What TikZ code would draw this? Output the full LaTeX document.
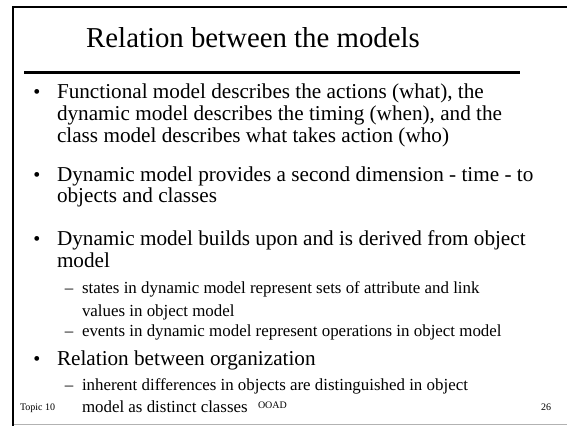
\documentclass[tikz,border=0pt]{standalone}
\usepackage{fontspec}
\setmainfont{Liberation Serif}
\begin{document}
\begin{tikzpicture}[x=1pt,y=-1pt,
  every node/.style={inner sep=0pt,outer sep=0pt},
  titletext/.style={font=\fontsize{28.8}{32}\selectfont,anchor=base},
  bodytext/.style={font=\fontsize{21.2}{22}\selectfont,anchor=base west},
  subtext/.style={font=\fontsize{16.9}{20}\selectfont,anchor=base west},
  foot/.style={font=\fontsize{10}{11}\selectfont,anchor=base west},
  bul/.style={font=\fontsize{20}{22}\selectfont,anchor=base},
  dsh/.style={font=\fontsize{16.9}{20}\selectfont,anchor=base}]
\useasboundingbox (0,0) rectangle (567,426);
% slide frame
\draw[line width=2pt] (567,6.5) -- (13,6.5) -- (13,426);
\draw[gray!60,line width=1pt] (14,424.5) -- (567,424.5);
% title and rule
\node[titletext] (title) at (253,47) {Relation between the models};
\draw[line width=3pt] (24,72) -- (520,72);
% bullet 1
\node[bul] (b1) at (37,98) {•};
\node[bodytext] (b1a) at (57,98) {Functional model describes the actions (what), the};
\node[bodytext] (b1b) at (57,120) {dynamic model describes the timing (when), and the};
\node[bodytext] (b1c) at (57,142) {class model describes what takes action (who)};
% bullet 2
\node[bul] (b2) at (37,181) {•};
\node[bodytext] (b2a) at (57,181) {Dynamic model provides a second dimension - time - to};
\node[bodytext] (b2b) at (57,202) {objects and classes};
% bullet 3
\node[bul] (b3) at (37,245) {•};
\node[bodytext] (b3a) at (57,245) {Dynamic model builds upon and is derived from object};
\node[bodytext] (b3b) at (57,267) {model};
\node[dsh] (d1) at (69,293) {–};
\node[subtext] (s1a) at (82,293) {states in dynamic model represent sets of attribute and link};
\node[subtext] (s1b) at (82,316) {values in object model};
\node[dsh] (d2) at (69,336) {–};
\node[subtext] (s2a) at (82,336) {events in dynamic model represent operations in object model};
% bullet 4
\node[bul] (b4) at (37,365) {•};
\node[bodytext] (b4a) at (57,365) {Relation between organization};
\node[dsh] (d3) at (69,390) {–};
\node[subtext] (s3a) at (82,390) {inherent differences in objects are distinguished in object};
\node[subtext] (s3b) at (82,412) {model as distinct classes};
% footer
\node[foot] (ftopic) at (20,410) {Topic 10};
\node[foot] (fname) at (258,408) {OOAD};
\node[foot] (fpage) at (541,410) {26};
\end{tikzpicture}
\end{document}
